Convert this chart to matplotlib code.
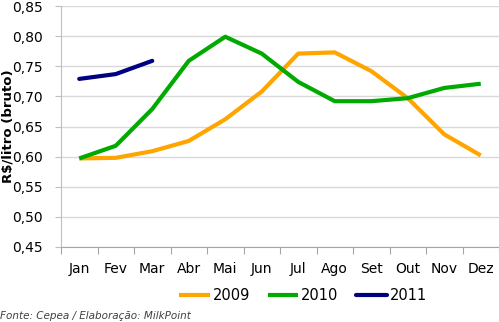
import matplotlib
matplotlib.use("Agg")
import matplotlib.pyplot as plt
import numpy as np

months = ["Jan", "Fev", "Mar", "Abr", "Mai", "Jun", "Jul", "Ago", "Set", "Out", "Nov", "Dez"]
v2009 = [0.597, 0.598, 0.609, 0.626, 0.662, 0.708, 0.771, 0.773, 0.742, 0.697, 0.637, 0.602]
v2010 = [0.597, 0.618, 0.679, 0.759, 0.799, 0.771, 0.724, 0.692, 0.692, 0.697, 0.714, 0.721]
v2011 = [0.729, 0.737, 0.759]
yticks = [0.45, 0.50, 0.55, 0.60, 0.65, 0.70, 0.75, 0.80, 0.85]

plt.rcParams['font.family'] = ['DejaVu Sans']
fig = plt.figure(figsize=(4.99, 3.22), dpi=100)
ax = fig.add_axes([61/499, 1-247/322, 438/499, 241/322])

x = np.arange(len(months))
ax.plot(x, v2009, color="#FFA500", lw=3, label="2009", solid_capstyle="butt")
ax.plot(x, v2010, color="#00AA00", lw=3, label="2010", solid_capstyle="butt")
ax.plot(x[:len(v2011)], v2011, color="#000080", lw=3, label="2011", solid_capstyle="round")

ax.set_xlim(-0.5, 11.5)
ax.set_ylim(0.45, 0.85)
ax.set_yticks(yticks)
ax.set_yticklabels([f"{t:.2f}".replace(".", ",") for t in yticks], fontsize=10)
ax.yaxis.grid(True, color="#D9D9D9", lw=1)
ax.set_axisbelow(True)
ax.tick_params(axis="y", length=4, color="#BFBFBF", pad=9)

ax.set_xticks(np.arange(-0.5, 12, 1))
ax.set_xticklabels([])
ax.set_xticks(x, minor=True)
ax.set_xticklabels(months, minor=True, fontsize=10)
ax.tick_params(axis="x", which="major", length=5, color="#A6A6A6")
ax.tick_params(axis="x", which="minor", length=0, pad=11)

for s in ["top", "right"]:
    ax.spines[s].set_visible(False)
ax.spines["left"].set_color("#BFBFBF")
ax.spines["bottom"].set_color("#A6A6A6")

ax.set_ylabel("R$/litro (bruto)", fontsize=9.5, fontweight="bold")
ax.yaxis.set_label_coords((15 - 61) / 438, 0.5)

fig.legend(loc="center", bbox_to_anchor=(303/499, 1-296/322), ncol=3, frameon=False,
           fontsize=10.5, handlelength=2.1, handletextpad=0.2, columnspacing=1.2)

fig.text(0.0, 1-316/322, "Fonte: Cepea / Elaboração: MilkPoint", fontsize=7.5,
         style="italic", color="#404040", va="center")

fig.savefig("out.png", dpi=100)
